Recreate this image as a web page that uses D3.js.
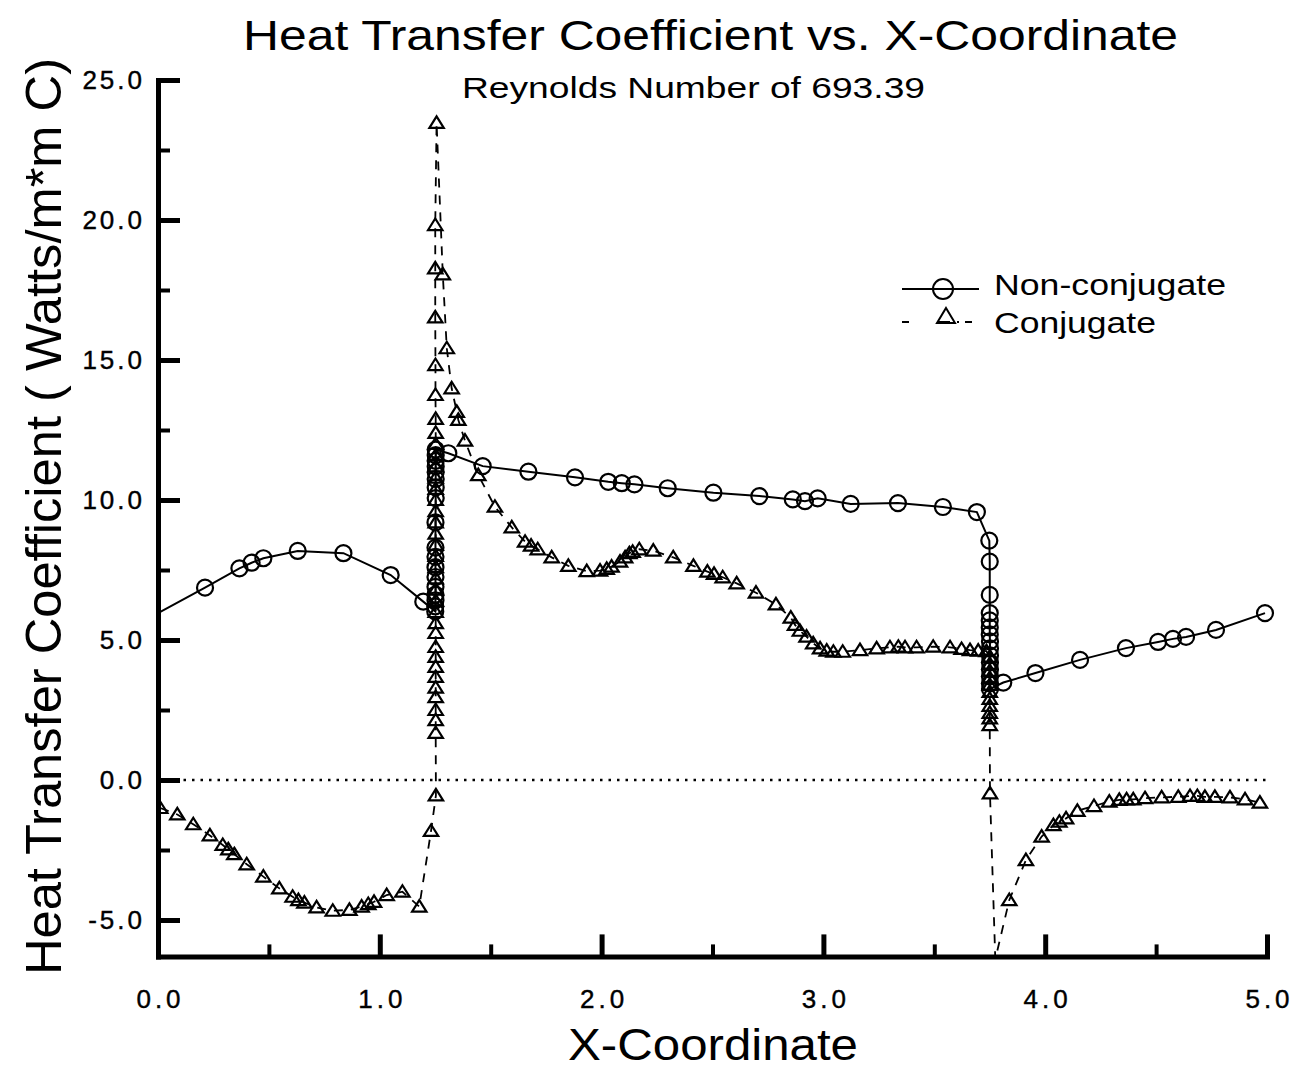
<!DOCTYPE html>
<html><head><meta charset="utf-8">
<script src="https://cdn.jsdelivr.net/npm/d3@7"></script>
<style>
body{margin:0;background:#fff;}
svg{display:block;}
text{font-family:"Liberation Sans",Arial,Helvetica,sans-serif;fill:#000;}
</style>
</head><body>
<svg id="c" width="1306" height="1078"></svg>
<script>
// ---- Data ----
const ncX=[0.000,0.212,0.367,0.422,0.475,0.630,0.836,1.049,1.196,1.250,1.250,1.251,1.251,1.251,1.251,1.251,1.251,1.251,1.251,1.252,1.252,1.252,1.252,1.252,1.252,1.252,1.252,1.309,1.464,1.670,1.880,2.030,2.091,2.148,2.298,2.504,2.711,2.862,2.917,2.974,3.123,3.336,3.539,3.692,3.748,3.750,3.750,3.750,3.750,3.750,3.750,3.751,3.751,3.751,3.751,3.751,3.751,3.751,3.751,3.811,3.956,4.157,4.364,4.509,4.576,4.635,4.770,4.991];
const ncY=[5.96,6.87,7.56,7.76,7.92,8.18,8.10,7.32,6.37,6.02,6.20,6.42,6.62,6.90,7.25,7.60,7.97,8.30,9.20,10.07,10.45,10.75,11.00,11.20,11.40,11.60,11.80,11.67,11.21,11.01,10.81,10.65,10.60,10.56,10.42,10.26,10.14,10.02,9.96,10.06,9.86,9.89,9.75,9.57,8.55,7.80,6.61,5.96,5.70,5.45,5.20,4.95,4.70,4.45,4.20,3.95,3.70,3.45,3.25,3.48,3.82,4.29,4.71,4.93,5.04,5.11,5.36,5.96];

const cX=[0.010,0.087,0.159,0.234,0.292,0.317,0.344,0.400,0.475,0.547,0.607,0.633,0.660,0.715,0.788,0.863,0.918,0.948,0.974,1.031,1.102,1.178,1.231,1.253,1.252,1.252,1.252,1.252,1.252,1.252,1.252,1.252,1.252,1.252,1.252,1.252,1.252,1.252,1.252,1.252,1.252,1.252,1.252,1.252,1.252,1.252,1.252,1.252,1.252,1.252,1.252,1.252,1.252,1.251,1.251,1.250,1.250,1.250,1.256,1.284,1.302,1.324,1.347,1.354,1.384,1.444,1.519,1.595,1.655,1.682,1.712,1.775,1.850,1.933,1.993,2.023,2.045,2.083,2.106,2.125,2.140,2.170,2.233,2.323,2.414,2.477,2.507,2.546,2.609,2.696,2.786,2.853,2.872,2.894,2.924,2.954,2.985,3.015,3.045,3.087,3.165,3.240,3.300,3.338,3.368,3.420,3.495,3.571,3.623,3.661,3.698,3.735,3.750,3.750,3.750,3.750,3.750,3.750,3.750,3.750,3.750,3.750,3.750,3.751,3.775,3.838,3.913,3.984,4.037,4.064,4.094,4.145,4.220,4.289,4.334,4.367,4.397,4.450,4.525,4.600,4.653,4.686,4.720,4.765,4.833,4.901,4.968];
const cY=[-1.00,-1.23,-1.58,-1.98,-2.32,-2.48,-2.65,-3.01,-3.45,-3.87,-4.17,-4.29,-4.38,-4.55,-4.67,-4.64,-4.52,-4.43,-4.35,-4.11,-3.99,-4.52,-1.82,-0.55,1.68,2.14,2.50,2.96,3.30,3.68,4.04,4.40,4.75,5.25,5.60,6.00,6.40,6.80,7.20,7.60,8.00,8.40,8.80,9.20,9.60,10.00,10.40,10.80,11.20,11.60,12.00,12.40,12.90,13.75,14.82,16.52,18.27,19.82,23.47,18.06,15.42,13.99,13.15,12.86,12.12,10.89,9.76,9.02,8.51,8.37,8.24,7.95,7.65,7.46,7.48,7.54,7.62,7.80,7.95,8.10,8.15,8.24,8.19,7.95,7.65,7.44,7.36,7.24,7.02,6.69,6.27,5.80,5.54,5.33,5.12,4.88,4.70,4.62,4.58,4.58,4.64,4.70,4.74,4.76,4.74,4.74,4.76,4.74,4.68,4.64,4.62,4.60,4.40,4.15,3.90,3.65,3.40,3.15,2.90,2.65,2.40,2.20,1.96,-0.48,-6.40,-4.29,-2.86,-2.02,-1.61,-1.49,-1.37,-1.10,-0.93,-0.77,-0.71,-0.69,-0.69,-0.65,-0.62,-0.60,-0.57,-0.57,-0.60,-0.60,-0.62,-0.69,-0.81];

const xTicks=[0,1,2,3,4,5];
const xTickLabels=["0.0","1.0","2.0","3.0","4.0","5.0"];
const xMinorTicks=[0.5,1.5,2.5,3.5,4.5];
const yTicks=[-5,0,5,10,15,20,25];
const yTickLabels=["-5.0","0.0","5.0","10.0","15.0","20.0","25.0"];
const yMinorTicks=[-2.5,2.5,7.5,12.5,17.5,22.5];
const seriesNames=["Non-conjugate","Conjugate"];
const titleText="Heat Transfer Coefficient vs. X-Coordinate";
const subtitleText="Reynolds Number of 693.39";
const xLabel="X-Coordinate";
const yLabel="Heat Transfer Coefficient ( Watts/m*m C)";

// ---- Layout ----
const svg=d3.select("#c");
const x=d3.scaleLinear().domain([0,5]).range([158,1267]);
const y=d3.scaleLinear().domain([-6.3,25]).range([956.4,80]);

svg.append("defs").append("clipPath").attr("id","plot")
  .append("rect").attr("x",158).attr("y",60).attr("width",1120).attr("height",896);

// zero dotted line
svg.append("line").attr("x1",x(0)).attr("x2",x(5)).attr("y1",y(0)).attr("y2",y(0))
  .attr("stroke","#000").attr("stroke-width",2.5).attr("stroke-dasharray","2.5,6");

// axes
const yAxis=d3.axisLeft(y).tickValues(yTicks).tickSizeInner(-22).tickSizeOuter(0).tickPadding(16)
  .tickFormat((d,i)=>yTickLabels[i]);
const gy=svg.append("g").attr("transform",`translate(${x(0)},0)`).call(yAxis);
const yMinor=d3.axisLeft(y).tickValues(yMinorTicks).tickSizeInner(-12).tickSizeOuter(0).tickFormat("");
const gym=svg.append("g").attr("transform",`translate(${x(0)},0)`).call(yMinor);
gym.select(".domain").remove();

const xAxis=d3.axisBottom(x).tickValues(xTicks).tickSizeInner(-22).tickSizeOuter(0).tickPadding(33)
  .tickFormat((d,i)=>xTickLabels[i]);
const gx=svg.append("g").attr("transform",`translate(0,${y(-6.3)})`).call(xAxis);
const xMinor=d3.axisBottom(x).tickValues(xMinorTicks).tickSizeInner(-12).tickSizeOuter(0).tickFormat("");
const gxm=svg.append("g").attr("transform",`translate(0,${y(-6.3)})`).call(xMinor);
gxm.select(".domain").remove();

[gy,gx].forEach(g=>g.select(".domain").attr("stroke","#000").attr("stroke-width",5).attr("stroke-linecap","square"));
[gy,gx].forEach(g=>g.selectAll(".tick line").attr("stroke","#000").attr("stroke-width",5));
[gym,gxm].forEach(g=>g.selectAll(".tick line").attr("stroke","#000").attr("stroke-width",4));
gy.selectAll(".tick text").attr("font-size",26).attr("font-family","Liberation Sans, Arial, sans-serif")
  .attr("letter-spacing","3px").attr("dx","3px").attr("stroke","#000").attr("stroke-width",0.4);
gx.selectAll(".tick text").attr("font-size",26).attr("font-family","Liberation Sans, Arial, sans-serif")
  .attr("letter-spacing","4px").attr("dx","2px").attr("stroke","#000").attr("stroke-width",0.4);

// lines
const lineGen=d3.line().x(d=>x(d[0])).y(d=>y(d[1]));
const ncData=ncX.map((v,i)=>[v,ncY[i]]);
const cData=cX.map((v,i)=>[v,cY[i]]);
const plot=svg.append("g").attr("clip-path","url(#plot)");
plot.append("path").datum(cData).attr("d",lineGen).attr("fill","none").attr("stroke","#000")
  .attr("stroke-width",1.8).attr("stroke-dasharray","9,8");
plot.append("path").datum(ncData).attr("d",lineGen).attr("fill","none").attr("stroke","#000")
  .attr("stroke-width",2);

const tri="M0,-6.5L7.2,5L-7.2,5Z";
plot.selectAll(".tri").data(cData.filter(d=>d[1]>-6.3)).enter().append("path")
  .attr("d",tri).attr("transform",d=>`translate(${x(d[0])},${y(d[1])})`)
  .attr("fill","none").attr("stroke","#000").attr("stroke-width",2.2);
plot.selectAll(".circ").data(ncData.filter(d=>d[0]>0)).enter().append("circle")
  .attr("cx",d=>x(d[0])).attr("cy",d=>y(d[1])).attr("r",8)
  .attr("fill","none").attr("stroke","#000").attr("stroke-width",2.2);

// legend
const lg=svg.append("g");
lg.append("line").attr("x1",902).attr("x2",979).attr("y1",289).attr("y2",289).attr("stroke","#000").attr("stroke-width",2);
lg.append("circle").attr("cx",943).attr("cy",289).attr("r",10).attr("fill","none").attr("stroke","#000").attr("stroke-width",2);
lg.append("text").attr("x",994).attr("y",295).attr("font-size",30).attr("textLength",232).attr("lengthAdjust","spacingAndGlyphs").text(seriesNames[0]);
lg.append("line").attr("x1",902).attr("x2",982).attr("y1",322).attr("y2",322).attr("stroke","#000").attr("stroke-width",2).attr("stroke-dasharray","7,29,12,7,2,6");
lg.append("path").attr("d","M0,-8L9,7L-9,7Z").attr("transform","translate(946,316)").attr("fill","none").attr("stroke","#000").attr("stroke-width",2);
lg.append("text").attr("x",994).attr("y",333).attr("font-size",30).attr("textLength",162).attr("lengthAdjust","spacingAndGlyphs").text(seriesNames[1]);

// titles
svg.append("text").attr("x",243).attr("y",50).attr("font-size",42).attr("textLength",935).attr("lengthAdjust","spacingAndGlyphs").text(titleText);
svg.append("text").attr("x",462).attr("y",98).attr("font-size",29).attr("textLength",463).attr("lengthAdjust","spacingAndGlyphs").text(subtitleText);
svg.append("text").attr("x",568).attr("y",1060).attr("font-size",44).attr("textLength",290).attr("lengthAdjust","spacingAndGlyphs").text(xLabel);
svg.append("text").attr("transform","translate(61,975) rotate(-90)").attr("x",0).attr("y",0)
  .attr("font-size",50).attr("textLength",917).attr("lengthAdjust","spacingAndGlyphs").text(yLabel);
</script>
</body></html>
